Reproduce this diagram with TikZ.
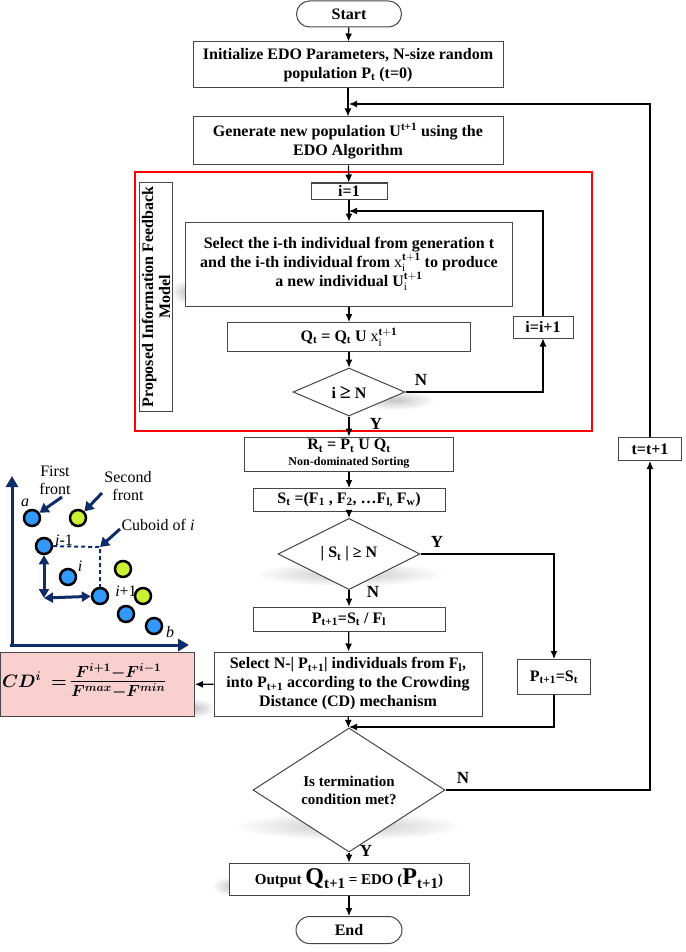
\RequirePackage{fix-cm}
\documentclass[tikz,border=0pt]{standalone}
\usepackage{fontspec}
\setmainfont{Liberation Serif}
\usepackage{amsmath, bm}
\usetikzlibrary{positioning}
\usetikzlibrary{arrows.meta}
\usetikzlibrary{shapes.geometric,shapes.misc}
\usetikzlibrary{fadings,backgrounds}

\definecolor{navy}{RGB}{16,44,104}
\definecolor{dotblue}{RGB}{51,153,255}
\definecolor{dotgreen}{RGB}{204,238,51}
\definecolor{cdpink}{RGB}{248,208,208}
\definecolor{boxline}{RGB}{70,70,70}

\tikzfading[name=softedge, inner color=transparent!35, outer color=transparent!100]
\tikzset{
  box/.style={draw=boxline, line width=1pt, fill=white, align=center, inner sep=1pt,
    font=\fontsize{16}{19}\selectfont\bfseries},
  pill/.style={box, rounded rectangle, minimum width=107, minimum height=26},
  decide/.style={box, diamond, inner sep=0pt},
  flow/.style={-{Latex[length=8pt,width=7pt]}, line width=1.2pt},
  yn/.style={font=\fontsize{17}{17}\selectfont\bfseries},
  dot/.style={circle, draw=black, line width=2.5pt, minimum size=16, inner sep=0pt},
  pointer/.style={navy, line width=3pt, -{Triangle[length=9pt,width=11pt]}},
  both/.style={navy, line width=3pt, {Triangle[length=9pt,width=10pt]}-{Triangle[length=9pt,width=10pt]}},
  txt/.style={font=\fontsize{16}{18}\selectfont, align=center},
  blur/.style={fill=black!35, path fading=softedge},
}
\newcommand{\bigsub}[2]{{\fontsize{24}{24}\selectfont #1}\raisebox{-4pt}{#2}}

\begin{document}
\begin{tikzpicture}[x=1pt, y=-1pt]
\useasboundingbox (0,0) rectangle (685,952);

% main flow
\node[pill] (start) at (349,14) {Start};
\node[box, minimum width=310, minimum height=46] (init) at (348,65)
  {Initialize EDO Parameters, N-size random\\population P\textsubscript{t} (t=0)};
\node[box, minimum width=310, minimum height=48] (gen) at (348,141)
  {Generate new population U\textsuperscript{t+1} using the\\EDO Algorithm};
\coordinate (jgen) at (349,104);

% feedback model
\draw[red, line width=1.5pt] (135,172) rectangle (592,431);
\node[box, rotate=90, minimum width=229, minimum height=33, font=\fontsize{16}{17}\selectfont\bfseries] (pifm) at (156,297)
  {Proposed Information Feedback\\Model};
\node[box, minimum width=76, minimum height=16, inner sep=0pt] (i1) at (349,191) {i=1};
\coordinate (jsel) at (349,211);
\node[box, minimum width=327, minimum height=84] (sel) at (349,264)
  {Select the i-th individual from generation t\\
   and the i-th individual from $\mathrm{x}_{\mathrm{i}}^{\mathbf{t+1}}$ to produce\\
   a new individual U$_{\mathrm{i}}^{\mathbf{t+1}}$};
\node[box, minimum width=243, minimum height=29] (qt) at (349,337)
  {Q\textsubscript{t} = Q\textsubscript{t} U $\mathrm{x}_{\mathrm{i}}^{\mathbf{t+1}}$};
\node[decide, minimum width=112, minimum height=48] (ign) at (349,392) {i {\fontsize{20}{20}\selectfont≥} N};
\node[box, minimum width=60, minimum height=22] (iinc) at (543,327) {i=i+1};

\draw[flow] (start) -- (init);
\draw[flow] (init) -- (gen);
\draw[flow] (gen) -- (i1);
\draw[flow] (i1) -- (sel);
\draw[flow] (sel) -- (qt);
\draw[flow] (qt) -- (ign);
\draw[flow] (ign.east) -| (iinc.south);
\draw[flow] (iinc.north) |- (jsel);
\node[yn] at (421,380) {N};
\node[yn] at (376,424) {Y};

% sorting
\node[box, minimum width=209, minimum height=34] (rt) at (349,454)
  {R\textsubscript{t} = P\textsubscript{t} U Q\textsubscript{t}\\[-3pt]{\fontsize{12}{13}\selectfont Non-dominated Sorting}};
\node[box, minimum width=192, minimum height=23] (st) at (349,500)
  {S\textsubscript{t} =(F\textsubscript{1} , F\textsubscript{2}, \dots F\textsubscript{l,} F\textsubscript{w})};
\node[decide, minimum width=142, minimum height=48] (sgn) at (349,554) {| S\textsubscript{t} | ≥ N};
\node[box, minimum width=192, minimum height=24] (pfl) at (349,619)
  {P\textsubscript{t+1}=S\textsubscript{t} / F\textsubscript{l}};
\node[box, minimum width=268, minimum height=64] (crowd) at (348,684)
  {Select N-| P\textsubscript{t+1}| individuals from F\textsubscript{l},\\
   into P\textsubscript{t+1} according to the Crowding\\Distance (CD) mechanism};
\node[box, minimum width=73, minimum height=35] (pst) at (554,677) {P\textsubscript{t+1}=S\textsubscript{t}};
\coordinate (jterm) at (349,727);

\draw[flow] (ign) -- (rt);
\draw[flow] (rt) -- (st);
\draw[flow] (st) -- (sgn);
\draw[flow] (sgn) -- (pfl);
\draw[flow] (pfl) -- (crowd);
\draw[flow] (sgn.east) -| (pst.north);
\draw[flow] (pst.south) |- (jterm);
\node[yn] at (437,542) {Y};
\node[yn] at (373,592) {N};

% termination
\node[decide, minimum width=192, minimum height=90, font=\fontsize{15}{18}\selectfont\bfseries] (term) at (349,790)
  {Is termination\\condition met?};
\node[box, minimum width=240, minimum height=32, font=\fontsize{15}{18}\selectfont\bfseries] (out) at (349,879)
  {Output \bigsub{Q}{t+1} = EDO (\bigsub{P}{t+1})};
\node[pill, minimum width=108, minimum height=27] (end) at (349,930) {End};
\node[box, minimum width=63, minimum height=23] (tinc) at (650,449) {t=t+1};

\draw[flow] (crowd) -- (term);
\draw[flow] (term) -- (out);
\draw[flow] (out) -- (end);
\draw[flow] (term.east) -| (tinc.south);
\draw[flow] (tinc.north) |- (jgen);
\node[yn] at (463,778) {N};
\node[yn] at (366,851) {Y};

% soft shadows
\begin{scope}[on background layer]
\fill[blur] (395,400) ellipse (40 and 10);
\fill[blur] (349,574) ellipse (95 and 12);
\fill[blur] (349,826) ellipse (115 and 14);
\fill[blur] (195,708) ellipse (20 and 10);
\fill[blur] (232,886) ellipse (20 and 10);
\fill[blur] (185,292) ellipse (14 and 12);
\end{scope}

% crowding distance
\node[box, fill=cdpink, draw=boxline, minimum width=194, minimum height=64, anchor=north west] (cd) at (0,652) {};
\node[anchor=west, inner sep=0pt] (cdf) at (2,681)
  {\fontsize{18}{18}\selectfont$\boldsymbol{CD^{i}}\;\boldsymbol{=}\,$%
   {\fontsize{23}{23}\selectfont$\boldsymbol{\frac{F^{i+1}-F^{i-1}}{F^{max}-F^{min}}}$}};
\draw[flow] (crowd) -- (cd);

\draw[navy, line width=3pt, -{Triangle[length=11pt,width=12pt]}] (12,645) -- (12,476);
\draw[navy, line width=3pt, -{Triangle[length=11pt,width=12pt]}] (10,645) -- (189,645);
\node[dot, fill=dotblue] (pa) at (32,518) {};
\node[dot, fill=dotgreen] (g1) at (78,518) {};
\node[dot, fill=dotblue] (pim) at (44,546) {};
\node[dot, fill=dotgreen] (g2) at (123,569) {};
\node[dot, fill=dotblue] (pi) at (68,577) {};
\node[dot, fill=dotblue] (pip) at (100,596) {};
\node[dot, fill=dotgreen] (g3) at (143,596) {};
\node[dot, fill=dotblue] (p5) at (126,614) {};
\node[dot, fill=dotblue] (pb) at (154,626) {};
\coordinate (cub) at (100,547);
\coordinate (corner) at (44,598);
\draw[navy, line width=2pt, dash pattern=on 4pt off 3pt] (pim) -- (cub) -- (pip);
\draw[both] (pim) -- (corner);
\draw[both] (corner) -- (pip);

\node[txt, font=\fontsize{16}{18}\selectfont\itshape] at (25,503) {a};
\node[txt, font=\fontsize{16}{18}\selectfont\itshape] at (170,632) {b};
\node[txt] at (64,540) {\textit{i}-1};
\node[txt, font=\fontsize{16}{18}\selectfont\itshape] at (80,566) {i};
\node[txt] at (126,591) {\textit{i}+1};
\node[txt] (ff) at (55,480) {First\\front};
\node[txt] (sf) at (128,486) {Second\\front};
\node[txt] (co) at (158,525) {Cuboid of \textit{i}};
\draw[pointer] (62,497) -- (pa);
\draw[pointer] (102,493) -- (g1);
\draw[pointer] (120,529) -- (cub);
\end{tikzpicture}
\end{document}
